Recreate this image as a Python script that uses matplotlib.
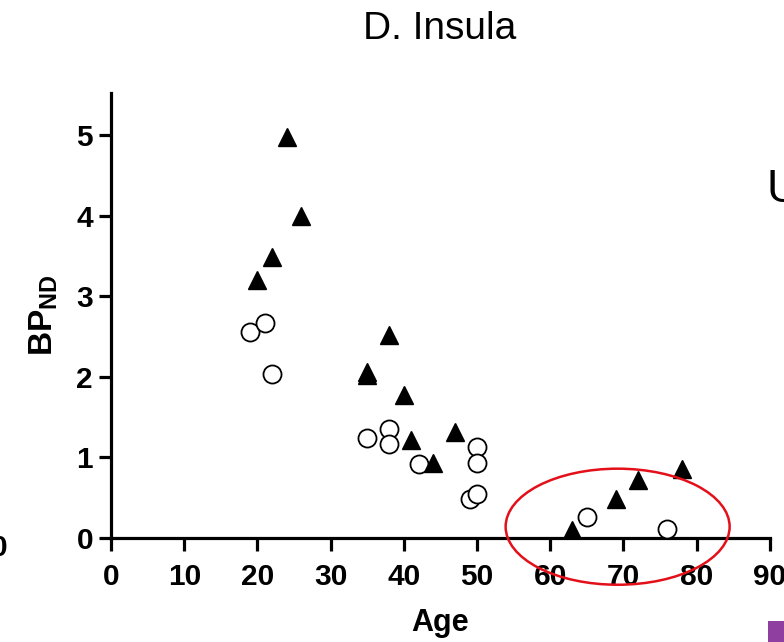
import matplotlib
matplotlib.use("Agg")
import matplotlib.pyplot as plt
from matplotlib.patches import Ellipse, Rectangle

plt.rcParams['font.family'] = ['Liberation Sans', 'DejaVu Sans']
plt.rcParams['mathtext.fontset'] = 'custom'
plt.rcParams['mathtext.rm'] = 'Liberation Sans'
plt.rcParams['mathtext.bf'] = 'Liberation Sans:bold'

# Filled triangles
tri_age = [20, 22, 24, 26, 35, 35, 38, 40, 41, 44, 47, 63, 69, 72, 78]
tri_bp = [3.20, 3.49, 4.97, 3.99, 2.06, 2.02, 2.52, 1.77, 1.22, 0.93, 1.32, 0.10, 0.49, 0.72, 0.86]

# Open circles
circ_age = [19, 21, 22, 35, 38, 38, 42, 49, 50, 50, 50, 65, 76]
circ_bp = [2.55, 2.67, 2.04, 1.24, 1.35, 1.17, 0.92, 0.48, 0.55, 1.13, 0.93, 0.26, 0.11]

title = "D. Insula"
xticks = [0, 10, 20, 30, 40, 50, 60, 70, 80, 90]
yticks = [0, 1, 2, 3, 4, 5]

fig = plt.figure(figsize=(7.84, 6.42), dpi=100)
ax = fig.add_axes([0.1417, 0.162, 0.8403, 0.693])

ax.plot(circ_age, circ_bp, linestyle='none', marker='o', markersize=13,
        markerfacecolor='white', markeredgecolor='black', markeredgewidth=1.3, zorder=3)
ax.plot(tri_age, tri_bp, linestyle='none', marker='^', markersize=12.5,
        markerfacecolor='black', markeredgecolor='black', zorder=4)

ax.set_xlim(0, 90)
ax.set_ylim(0, 5.52)
ax.set_xticks(xticks)
ax.set_yticks(yticks)
for lab in ax.get_xticklabels() + ax.get_yticklabels():
    lab.set_fontweight('bold')
    lab.set_fontsize(21.5)
ax.tick_params(axis='both', direction='out', length=9, width=2.3)
ax.tick_params(axis='x', pad=9)
ax.tick_params(axis='y', pad=4)

for s in ['top', 'right']:
    ax.spines[s].set_visible(False)
for s in ['left', 'bottom']:
    ax.spines[s].set_linewidth(2.3)

ax.set_xlabel("Age", fontsize=22, fontweight='bold', labelpad=12)
ax.set_ylabel(r"$\mathbf{BP_{ND}}$", fontsize=24, labelpad=12)

fig.text(0.561, 0.955, title, ha='center', va='center', fontsize=28)

# Red ellipse annotation
ell = Ellipse((69.2, 0.14), 30.6, 1.44, fill=False, edgecolor='#e3101a',
              linewidth=1.8, clip_on=False, zorder=5)
ax.add_patch(ell)

# Fragments of neighbouring content in the screenshot
fig.text(-0.012, 0.146, "0", fontsize=21.5, fontweight='bold', ha='left', va='center')
fig.text(0.9775, 0.704, "U", fontsize=33, ha='left', va='center')
fig.patches.append(Rectangle((0.9796, 0.0), 0.03, 0.032, transform=fig.transFigure,
                             facecolor='#8e3fa0', edgecolor='none', figure=fig))

fig.savefig("out.png", dpi=100)
